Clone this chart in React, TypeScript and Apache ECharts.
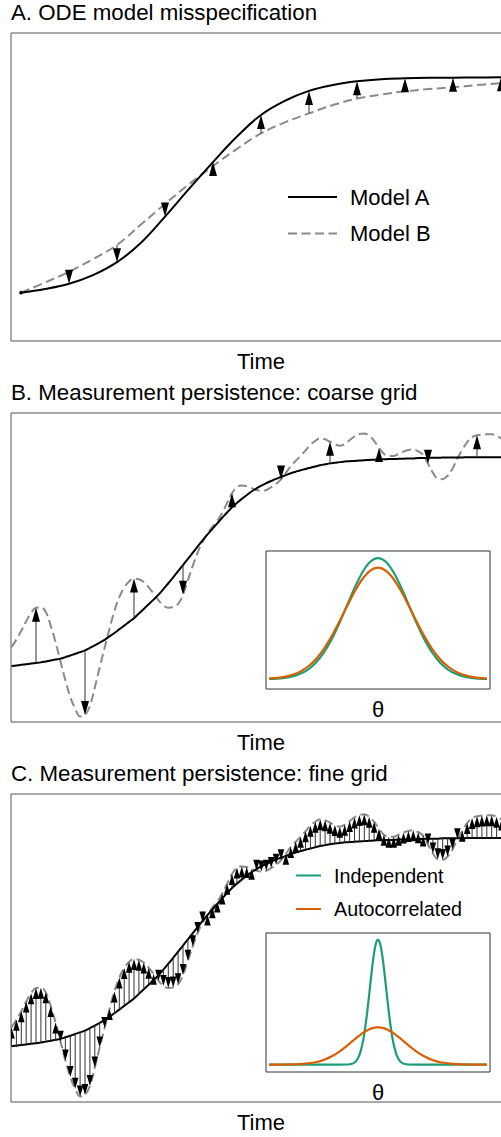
import { useEffect, useRef } from "react";
import * as echarts from "echarts";

const FONT = '"Liberation Sans", Arial, Helvetica, sans-serif';

// ---------- Panel A: two ODE model trajectories ----------
const timeA = [2, 6.8, 11.6, 16.4, 21.2, 26, 30.8, 35.6, 40.4, 45.2, 50, 54.8, 59.6, 64.4, 69.2, 74, 78.8, 83.6, 88.4, 93.2, 98];
const modelAinA = [15.7, 16.9, 18.6, 21.4, 25.6, 31.9, 40.4, 49.4, 58.1, 66.4, 73.4, 78.0, 81.2, 83.1, 84.3, 85.0, 85.3, 85.45, 85.5, 85.55, 85.6];
const modelBinA = [15.7, 19.0, 22.5, 26.6, 31.2, 37.8, 44.5, 50.9, 56.8, 62.4, 67.4, 71.0, 73.9, 76.6, 78.7, 80.0, 81.1, 81.8, 82.4, 83.1, 83.7];

// ---------- Panels B & C: model vs. persistent measurements ----------
const timeFine = [
  0.1, 1.08, 2.06, 3.04, 4.02, 5, 5.98, 6.96, 7.94, 8.92,
  9.9, 10.88, 11.86, 12.84, 13.82, 14.8, 15.78, 16.76, 17.74, 18.72,
  19.7, 20.68, 21.66, 22.64, 23.62, 24.6, 25.58, 26.56, 27.54, 28.52,
  29.5, 30.48, 31.46, 32.44, 33.42, 34.4, 35.38, 36.36, 37.34, 38.32,
  39.3, 40.28, 41.26, 42.24, 43.22, 44.2, 45.18, 46.16, 47.14, 48.12,
  49.1, 50.08, 51.06, 52.04, 53.02, 54, 54.98, 55.96, 56.94, 57.92,
  58.9, 59.88, 60.86, 61.84, 62.82, 63.8, 64.78, 65.76, 66.74, 67.72,
  68.7, 69.68, 70.66, 71.64, 72.62, 73.6, 74.58, 75.56, 76.54, 77.52,
  78.5, 79.48, 80.46, 81.44, 82.42, 83.4, 84.38, 85.36, 86.34, 87.32,
  88.3, 89.28, 90.26, 91.24, 92.22, 93.2, 94.18, 95.16, 96.14, 97.12,
  98.1, 99.08, 100.06,
];
const modelFine = [
  18.1, 18.3, 18.5, 18.7, 18.9, 19.1, 19.3, 19.6, 19.9, 20.2,
  20.5, 21.0, 21.5, 22.1, 22.6, 23.2, 24.0, 24.8, 25.7, 26.6,
  27.7, 28.8, 30.0, 31.2, 32.4, 33.6, 35.1, 36.6, 38.1, 39.6,
  41.2, 43.0, 44.9, 46.8, 48.8, 50.8, 52.8, 54.8, 56.8, 58.8,
  60.7, 62.5, 64.3, 66.1, 67.8, 69.5, 70.9, 72.2, 73.4, 74.6,
  75.6, 76.5, 77.3, 78.0, 78.7, 79.3, 79.9, 80.5, 81.0, 81.5,
  81.9, 82.3, 82.7, 83.1, 83.4, 83.7, 83.9, 84.1, 84.3, 84.4,
  84.5, 84.6, 84.7, 84.8, 84.9, 85.0, 85.0, 85.1, 85.1, 85.2,
  85.2, 85.3, 85.3, 85.4, 85.4, 85.5, 85.5, 85.5, 85.6, 85.6,
  85.6, 85.6, 85.6, 85.7, 85.7, 85.7, 85.7, 85.7, 85.7, 85.7,
  85.7, 85.7, 85.7,
];
const observedFine = [
  24.2, 26.7, 29.5, 32.6, 35.3, 37.0, 37.1, 35.6, 31.2, 25.8,
  19.6, 13.5, 8.1, 4.3, 1.8, 2.3, 5.2, 11.2, 17.7, 24.0,
  30.2, 35.9, 40.4, 43.5, 45.5, 46.4, 46.2, 45.3, 43.6, 41.6,
  39.4, 37.7, 37.0, 37.2, 38.2, 41.2, 45.9, 50.6, 54.9, 58.3,
  60.9, 63.2, 65.1, 67.7, 70.9, 74.0, 76.1, 76.5, 76.3, 75.7,
  75.1, 74.8, 75.1, 76.0, 77.0, 78.5, 80.6, 82.8, 84.5, 86.1,
  87.9, 89.7, 91.0, 91.8, 91.5, 90.7, 89.9, 89.4, 90.0, 91.2,
  92.4, 93.2, 93.4, 92.6, 91.0, 88.7, 86.8, 86.1, 86.1, 86.8,
  87.5, 88.0, 88.2, 87.6, 86.5, 83.6, 80.7, 78.8, 78.6, 79.7,
  82.0, 85.3, 88.1, 90.6, 92.2, 92.8, 93.0, 93.1, 93.1, 92.6,
  91.7, 90.8, 90.0,
];

// ---------- Insets: posterior densities of theta ----------
const thetaB = [-3.5, -3.25, -3, -2.75, -2.5, -2.25, -2, -1.75, -1.5, -1.25, -1, -0.75, -0.5, -0.25, 0, 0.25, 0.5, 0.75, 1, 1.25, 1.5, 1.75, 2, 2.25, 2.5, 2.75, 3, 3.25, 3.5];
const independentB = [7.3, 7.5, 8.1, 9.1, 11.0, 14.1, 19.0, 26.1, 35.6, 47.3, 60.4, 73.4, 84.6, 92.2, 94.9, 92.2, 84.6, 73.4, 60.4, 47.3, 35.6, 26.1, 19.0, 14.1, 11.0, 9.1, 8.1, 7.5, 7.3];
const autocorrB = [7.5, 8.0, 8.8, 10.3, 12.6, 16.3, 21.6, 28.8, 37.9, 48.5, 59.7, 70.6, 79.7, 85.8, 87.9, 85.8, 79.7, 70.6, 59.7, 48.5, 37.9, 28.8, 21.6, 16.3, 12.6, 10.3, 8.8, 8.0, 7.5];

const thetaC = [-3.5, -3, -2.5, -2, -1.75, -1.5, -1.25, -1, -0.9, -0.8, -0.7, -0.6, -0.5, -0.45, -0.4, -0.35, -0.3, -0.25, -0.2, -0.15, -0.1, -0.05, 0, 0.05, 0.1, 0.15, 0.2, 0.25, 0.3, 0.35, 0.4, 0.45, 0.5, 0.6, 0.7, 0.8, 0.9, 1, 1.25, 1.5, 1.75, 2, 2.5, 3, 3.5];
const independentC = [5.3, 5.3, 5.3, 5.3, 5.3, 5.3, 5.3, 5.4, 5.6, 6.2, 8.0, 12.1, 20.3, 26.3, 33.8, 42.6, 52.4, 62.7, 72.8, 81.8, 89.0, 93.6, 95.2, 93.6, 89.0, 81.8, 72.8, 62.7, 52.4, 42.6, 33.8, 26.3, 20.3, 12.1, 8.0, 6.2, 5.6, 5.4, 5.3, 5.3, 5.3, 5.3, 5.3, 5.3, 5.3];
const autocorrC = [5.3, 5.4, 5.7, 7.0, 8.6, 11.1, 14.5, 18.8, 20.7, 22.6, 24.5, 26.2, 27.9, 28.6, 29.3, 29.9, 30.5, 31.0, 31.4, 31.7, 31.9, 32.1, 32.1, 32.1, 31.9, 31.7, 31.4, 31.0, 30.5, 29.9, 29.3, 28.6, 27.9, 26.2, 24.5, 22.6, 20.7, 18.8, 14.5, 11.1, 8.6, 7.0, 5.7, 5.4, 5.3];

const panelTitles = [
  "A. ODE model misspecification",
  "B. Measurement persistence: coarse grid",
  "C. Measurement persistence: fine grid",
];
const legendA = ["Model A", "Model B"];
const legendC = ["Independent", "Autocorrelated"];

const GREEN = "#1b9e77";
const ORANGE = "#d95f02";
const DASH_GRAY = "#8a8a8a";

function pairs(xs: number[], ys: number[]) {
  return xs.map((x, i) => [x, ys[i]]);
}

function arrowRenderer(hw: number, hl: number) {
  return (params: any, api: any) => {
    const t = api.value(0);
    const from = api.value(1);
    const to = api.value(2);
    const p0 = api.coord([t, from]);
    const p1 = api.coord([t, to]);
    const dy = p1[1] - p0[1];
    if (Math.abs(dy) < 0.01) {
      return {
        type: "circle",
        shape: { cx: p0[0], cy: p0[1], r: 1.8 },
        style: { fill: "#000" },
      };
    }
    const s = dy > 0 ? 1 : -1;
    const baseY = p1[1] - s * hl;
    return {
      type: "group",
      children: [
        {
          type: "line",
          shape: { x1: p0[0], y1: p0[1], x2: p1[0], y2: p1[1] - s * hl * 0.5 },
          style: { stroke: "#333", lineWidth: 1 },
        },
        {
          type: "polygon",
          shape: {
            points: [
              [p1[0], p1[1]],
              [p1[0] - hw / 2, baseY],
              [p1[0] + hw / 2, baseY],
            ],
          },
          style: { fill: "#000" },
        },
      ],
    };
  };
}

export default function App() {
  const ref = useRef<HTMLDivElement>(null);

  useEffect(() => {
    if (!ref.current) return;
    const chart = echarts.init(ref.current, null, { renderer: "svg" });

    const arrowsA = timeA
      .map((t, i) => [t, modelBinA[i], modelAinA[i]])
      .filter((_, i) => i % 2 === 0);
    const arrowsB = timeFine
      .map((t, i) => [t, modelFine[i], observedFine[i]])
      .filter((_, i) => i % 10 === 5);
    const arrowsC = timeFine
      .map((t, i) => [t, modelFine[i], observedFine[i]])
      .filter((_, i) => i <= 101);

    const mainGrid = (top: number, height: number) => ({
      left: 11,
      top,
      width: 500,
      height,
      show: true,
      borderColor: "#555",
      borderWidth: 1,
      backgroundColor: "transparent",
      outerBoundsMode: "none",
      containLabel: false,
    });
    const insetGrid = (top: number, height: number) => ({
      left: 266,
      top,
      width: 224,
      height,
      show: true,
      borderColor: "#333",
      borderWidth: 1,
      backgroundColor: "#fff",
      outerBoundsMode: "none",
      containLabel: false,
    });
    const hidden = {
      axisLine: { show: false },
      axisTick: { show: false },
      axisLabel: { show: false },
      splitLine: { show: false },
    };
    const nameStyle = { fontSize: 22, color: "#000", fontFamily: FONT };
    const xMain = (gridIndex: number) => ({
      gridIndex,
      type: "value",
      min: 0,
      max: 100,
      name: "Time",
      nameLocation: "middle",
      nameGap: 9.2,
      nameTextStyle: nameStyle,
      ...hidden,
    });
    const xInset = (gridIndex: number) => ({
      gridIndex,
      type: "value",
      min: -3.6,
      max: 3.6,
      name: "θ",
      nameLocation: "middle",
      nameGap: 9.2,
      nameTextStyle: nameStyle,
      ...hidden,
    });
    const yAny = (gridIndex: number) => ({
      gridIndex,
      type: "value",
      min: 0,
      max: 100,
      ...hidden,
    });

    const solid = (xi: number, data: number[][], z = 3) => ({
      type: "line",
      xAxisIndex: xi,
      yAxisIndex: xi,
      data,
      showSymbol: false,
      smooth: 0.4,
      silent: true,
      z,
      lineStyle: { color: "#000", width: 2 },
    });
    const dashed = (xi: number, data: number[][]) => ({
      type: "line",
      xAxisIndex: xi,
      yAxisIndex: xi,
      data,
      showSymbol: false,
      smooth: 0.4,
      silent: true,
      z: 2,
      lineStyle: { color: DASH_GRAY, width: 2, type: [9, 4.5] },
    });
    const arrows = (xi: number, data: number[][], hw: number, hl: number) => ({
      type: "custom",
      xAxisIndex: xi,
      yAxisIndex: xi,
      data,
      encode: { x: 0, y: [1, 2] },
      renderItem: arrowRenderer(hw, hl),
      clip: true,
      silent: true,
      z: 4,
    });
    const density = (xi: number, data: number[][], color: string, z: number) => ({
      type: "line",
      xAxisIndex: xi,
      yAxisIndex: xi,
      data,
      showSymbol: false,
      smooth: 0.3,
      silent: true,
      z,
      lineStyle: { color, width: 2.2 },
    });

    const text = (x: number, y: number, s: string, size = 22.3) => ({
      type: "text",
      x,
      y,
      silent: true,
      style: {
        text: s,
        fontSize: size,
        fontFamily: FONT,
        fill: "#000",
        align: "left",
        verticalAlign: "middle",
      },
    });
    const legLine = (x1: number, x2: number, y: number, color: string, dash?: number[]) => ({
      type: "line",
      silent: true,
      shape: { x1, y1: y, x2, y2: y },
      style: { stroke: color, lineWidth: 2, lineDash: dash },
    });

    chart.setOption({
      animation: false,
      backgroundColor: "#fff",
      grid: [
        mainGrid(33, 308),
        mainGrid(413, 309),
        mainGrid(794, 308),
        insetGrid(551, 138),
        insetGrid(933, 139),
      ],
      xAxis: [xMain(0), xMain(1), xMain(2), xInset(3), xInset(4)],
      yAxis: [yAny(0), yAny(1), yAny(2), yAny(3), yAny(4)],
      series: [
        dashed(0, pairs(timeA, modelBinA)),
        solid(0, pairs(timeA, modelAinA)),
        arrows(0, arrowsA, 8, 14),

        dashed(1, pairs(timeFine, observedFine)),
        solid(1, pairs(timeFine, modelFine)),
        arrows(1, arrowsB, 8, 14),

        dashed(2, pairs(timeFine, observedFine)),
        solid(2, pairs(timeFine, modelFine)),
        arrows(2, arrowsC, 6.5, 11),

        density(3, pairs(thetaB, independentB), GREEN, 3),
        density(3, pairs(thetaB, autocorrB), ORANGE, 4),
        density(4, pairs(thetaC, independentC), GREEN, 3),
        density(4, pairs(thetaC, autocorrC), ORANGE, 4),
      ],
      graphic: [
        text(11, 12.5, panelTitles[0]),
        text(11, 392.8, panelTitles[1]),
        text(11, 773.8, panelTitles[2]),
        legLine(288, 337, 197, "#000"),
        legLine(288, 337, 233.5, DASH_GRAY, [9, 4.5]),
        text(350, 197, legendA[0], 22),
        text(350, 233.5, legendA[1], 22),
        legLine(296, 321, 875.5, GREEN),
        legLine(296, 321, 909, ORANGE),
        text(334, 875.5, legendC[0], 19.7),
        text(334, 909, legendC[1], 19.7),
      ],
    });

    return () => chart.dispose();
  }, []);

  return (
    <div
      ref={ref}
      style={{ position: "absolute", left: 0, top: 0, width: 501, height: 1137 }}
    />
  );
}
